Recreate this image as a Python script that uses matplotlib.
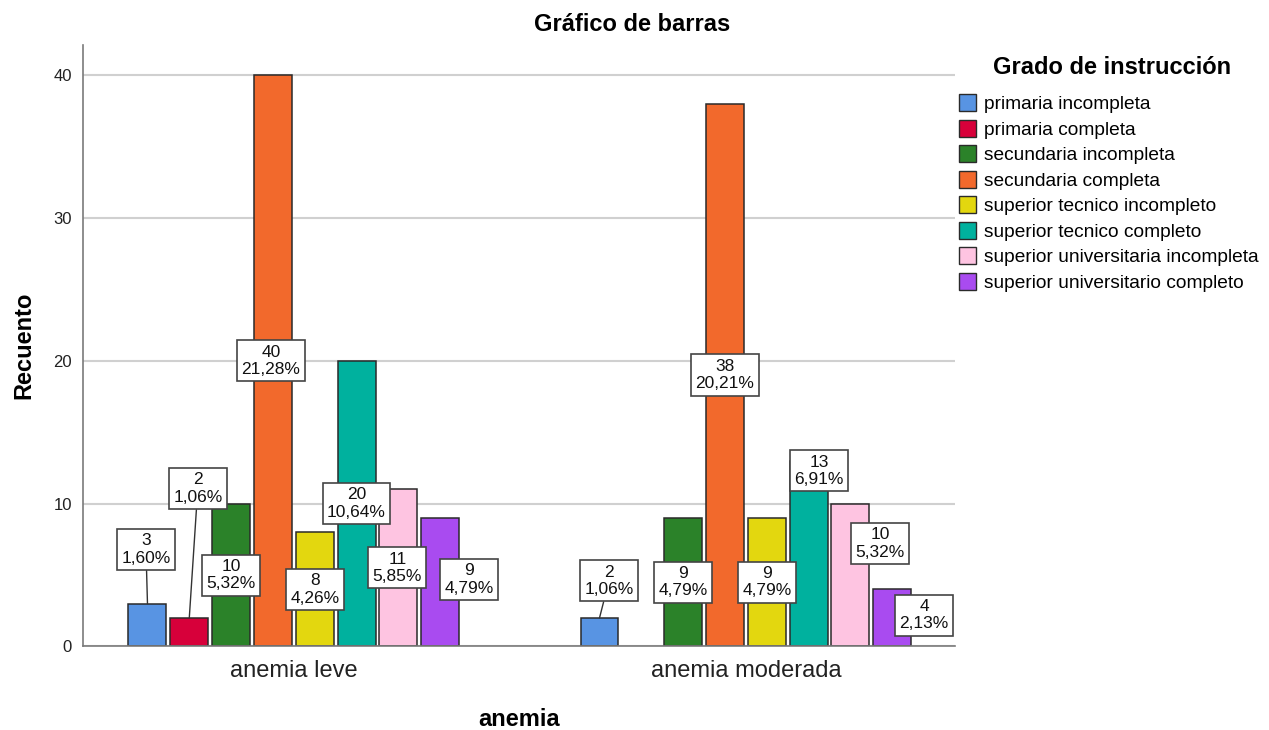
import matplotlib
matplotlib.use("Agg")
import matplotlib.pyplot as plt
from matplotlib.patches import Patch
from matplotlib.transforms import offset_copy

plt.rcParams["font.family"] = ["Liberation Sans", "DejaVu Sans"]

CATEGORIES = ["anemia leve", "anemia moderada"]
GRADOS = [
    "primaria incompleta",
    "primaria completa",
    "secundaria incompleta",
    "secundaria completa",
    "superior tecnico incompleto",
    "superior tecnico completo",
    "superior universitaria incompleta",
    "superior universitario completo",
]
LEVE = [3, 2, 10, 40, 8, 20, 11, 9]
MODERADA = [2, 0, 9, 38, 9, 13, 10, 4]

COLORS = ["#5894E3", "#D7003A", "#2B8229", "#F2692C",
          "#E3D70F", "#00B19E", "#FEC4E1", "#A94BF0"]

# where SPSS placed the value boxes: label height (data units) and x shift (px)
LABEL_Y = [
    [6.8, 11.05, 5.0, 20.0, 4.0, 10.0, 5.5, 4.7],
    [4.6, 0, 4.5, 19.0, 4.5, 12.3, 7.2, 2.2],
]
LABEL_DX = [
    [-1.5, 8.5, 0, -2, 0, 0, -1, 29],
    [9.5, 0, 0, 0, 0, 10.5, 29.5, 32],
]

total = sum(LEVE) + sum(MODERADA)
series = [LEVE, MODERADA]

fig = plt.figure(figsize=(12.69, 7.30), dpi=100)
ax = fig.add_axes([0.0654, 0.1144, 0.6872, 0.824])

step = 0.0925
width = 0.084
n = len(GRADOS)

for g, values in enumerate(series):
    for i, v in enumerate(values):
        if v == 0:
            continue
        x = g + (i - (n - 1) / 2) * step
        ax.bar(x, v, width=width, color=COLORS[i], edgecolor="#2a2a2a",
               linewidth=1.1, zorder=2)
        pct = "{:.2f}".format(100.0 * v / total).replace(".", ",") + "%"
        ly = LABEL_Y[g][i]
        trans = offset_copy(ax.transData, fig=fig, x=LABEL_DX[g][i], y=0,
                            units="dots")
        arrow = None
        if ly > v:
            arrow = dict(arrowstyle="-", color="#333333", lw=1.0,
                         shrinkA=0, shrinkB=0)
        ax.annotate(
            "{}\n{}".format(v, pct),
            xy=(x, v), xycoords="data",
            xytext=(x, ly), textcoords=trans,
            ha="center", va="center", fontsize=12.5, linespacing=1.2,
            color="#111111",
            bbox=dict(boxstyle="square,pad=0.25", fc="white", ec="#444444",
                      lw=1.2),
            arrowprops=arrow, zorder=4,
        )

ax.set_xlim(-0.4664, 1.4628)
ax.set_ylim(0, 42.1)
ax.set_yticks([0, 10, 20, 30, 40])
ax.set_xticks(range(len(CATEGORIES)))
ax.set_xticklabels(CATEGORIES, fontsize=17, color="#222222")
ax.tick_params(axis="y", length=0, pad=8, labelsize=12, labelcolor="#222222")
ax.tick_params(axis="x", length=0, pad=10)

ax.set_axisbelow(True)
ax.yaxis.grid(True, color="#d0d0d0", linewidth=1.5)
for side in ["top", "right"]:
    ax.spines[side].set_visible(False)
for side in ["left", "bottom"]:
    ax.spines[side].set_color("#7a7a7a")
    ax.spines[side].set_linewidth(1.2)

ax.set_ylabel("Recuento", fontsize=17, fontweight="bold")
ax.set_xlabel("anemia", fontsize=17, fontweight="bold")
ax.yaxis.set_label_coords(-0.055, 0.5)
ax.xaxis.set_label_coords(0.5, -0.103)

fig.text(0.498, 0.966, "Gráfico de barras", ha="center", va="center",
         fontsize=17, fontweight="bold")

fig.text(1112 / 1269, 1 - 68 / 730, "Grado de instrucción", ha="center",
         va="center", fontsize=17, fontweight="bold")

handles = [Patch(facecolor=c, edgecolor="#2a2a2a", linewidth=1.0) for c in COLORS]
fig.legend(
    handles, GRADOS,
    loc="upper left", bbox_to_anchor=(946 / 1269, 1 - 81 / 730),
    frameon=False, fontsize=13.8,
    handlelength=0.87, handleheight=0.97, handletextpad=0.43,
    labelspacing=0.34, borderpad=0.2,
)

fig.savefig("out.png", dpi=100)
